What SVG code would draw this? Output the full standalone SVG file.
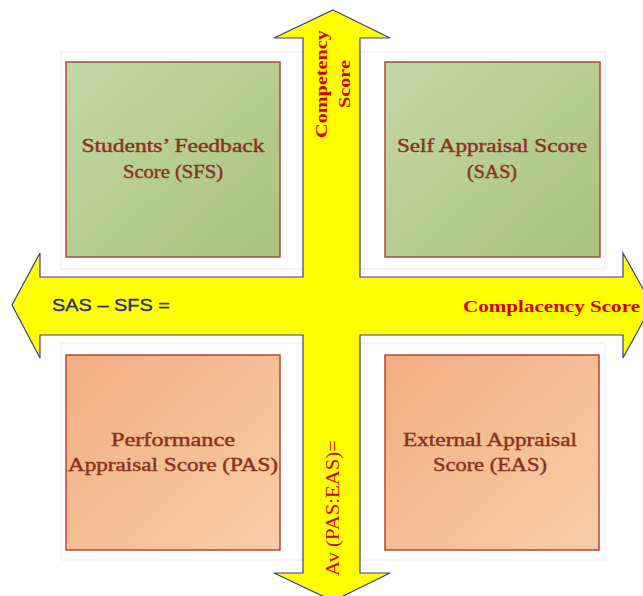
<svg xmlns="http://www.w3.org/2000/svg" width="643" height="596" viewBox="0 0 643 596">
<defs>
<linearGradient id="gGreen" x1="0" y1="0" x2="1" y2="1">
<stop offset="0" stop-color="#c4d8a4"/>
<stop offset="1" stop-color="#a9c27f"/>
</linearGradient>
<linearGradient id="gOrange" x1="0" y1="0" x2="1" y2="1">
<stop offset="0" stop-color="#f2ae80"/>
<stop offset="1" stop-color="#f8cda9"/>
</linearGradient>
<style>
.panel{fill:#ffffff;stroke:#ececec;stroke-width:1}
.box{stroke:#b2453a;stroke-width:1.5}
.lbl{font-family:"Liberation Serif",serif;font-size:19px;fill:#8a3324;stroke:#8a3324;stroke-width:0.45;text-anchor:middle}
.red{font-family:"Liberation Serif",serif;fill:#d40000}
.cross{fill:#ffff00;stroke:#3c3c8e;stroke-width:1.2;stroke-linejoin:miter}
</style>
</defs>
<rect width="643" height="596" fill="#ffffff"/>
<g id="panels">
<rect class="panel" x="61" y="52" width="243" height="217"/>
<rect class="panel" x="360" y="52" width="245" height="217"/>
<rect class="panel" x="61" y="343" width="243" height="217"/>
<rect class="panel" x="360" y="343" width="245" height="217"/>
</g>
<g id="SFS">
<rect class="box" x="66" y="62" width="214" height="195" fill="url(#gGreen)"/>
<text class="lbl" x="173" y="152" textLength="183" lengthAdjust="spacingAndGlyphs">Students’ Feedback</text>
<text class="lbl" x="173" y="178" textLength="100" lengthAdjust="spacingAndGlyphs">Score (SFS)</text>
</g>
<g id="SAS">
<rect class="box" x="385" y="62" width="215" height="195" fill="url(#gGreen)"/>
<text class="lbl" x="492" y="152" textLength="190" lengthAdjust="spacingAndGlyphs">Self Appraisal Score</text>
<text class="lbl" x="492" y="178" textLength="50" lengthAdjust="spacingAndGlyphs">(SAS)</text>
</g>
<g id="PAS">
<rect class="box" x="66" y="355" width="214" height="195" fill="url(#gOrange)"/>
<text class="lbl" x="173" y="446" textLength="124" lengthAdjust="spacingAndGlyphs">Performance</text>
<text class="lbl" x="173" y="471" textLength="210" lengthAdjust="spacingAndGlyphs">Appraisal Score (PAS)</text>
</g>
<g id="EAS">
<rect class="box" x="385" y="355" width="214" height="195" fill="url(#gOrange)"/>
<text class="lbl" x="490" y="446" textLength="174" lengthAdjust="spacingAndGlyphs">External Appraisal</text>
<text class="lbl" x="490" y="471" textLength="114" lengthAdjust="spacingAndGlyphs">Score  (EAS)</text>
</g>
<g id="connectors">
<path class="cross" d="M333,10 L390,38 L360,38 L360,277 L623,277 L623,253 L652,305 L623,358 L623,335 L360,335 L360,573 L390,573 L333,601 L274,573 L303,573 L303,335 L40,335 L40,358 L12,305 L40,253 L40,277 L303,277 L303,38 L274,38 Z"/>
<text class="red" font-weight="bold" font-size="17" transform="translate(327,84) rotate(-90)" text-anchor="middle" textLength="108" lengthAdjust="spacingAndGlyphs">Competency</text>
<text class="red" font-weight="bold" font-size="17" transform="translate(350,84) rotate(-90)" text-anchor="middle" textLength="48" lengthAdjust="spacingAndGlyphs">Score</text>
<text class="red" font-weight="bold" font-size="17" x="463" y="312" textLength="177" lengthAdjust="spacingAndGlyphs">Complacency Score</text>
<text font-family="Liberation Sans, sans-serif" font-size="17" fill="#2b2f7a" stroke="#2b2f7a" stroke-width="0.35" x="52" y="311" textLength="118" lengthAdjust="spacingAndGlyphs">SAS – SFS =</text>
<text class="red" font-size="18" transform="translate(339,576) rotate(-90)" textLength="136" lengthAdjust="spacingAndGlyphs">Av (PAS:EAS)=</text>
</g>
</svg>
